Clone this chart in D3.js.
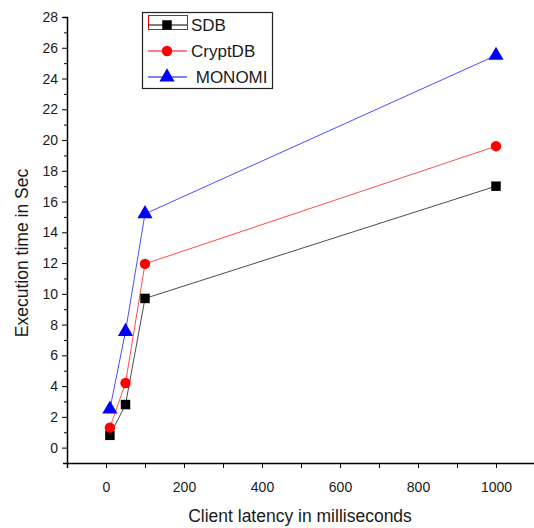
<!DOCTYPE html>
<html>
<head>
<meta charset="utf-8">
<script src="https://cdn.jsdelivr.net/npm/d3@7"></script>
<style>
  body { margin: 0; background: #fff; }
  text { font-family: "Liberation Sans", Arial, sans-serif; fill: #1a1a1a; }
</style>
</head>
<body>
<div id="main"></div>
<script>
const latency = [10, 50, 100, 1000];
const sdb = [0.8, 2.8, 9.7, 17.0];
const cryptdb = [1.3, 4.2, 11.95, 19.6];
const monomi = [2.5, 7.55, 15.2, 25.5];
const seriesNames = ["SDB", "CryptDB", " MONOMI"];
const seriesColors = ["#000000", "#ff0000", "#0000ff"];
const seriesSymbols = [d3.symbolSquare, d3.symbolCircle, d3.symbolTriangle];
const xTickLabels = [0, 200, 400, 600, 800, 1000];
const yTickLabels = d3.range(0, 29, 2);

const ctx = { w: 534, h: 528 };

function createViz() {
    let svg = d3.select("#main").append("svg")
        .attr("width", ctx.w)
        .attr("height", ctx.h);

    let xScale = d3.scaleLinear().domain([-100, 1100]).range([67, 535]);
    let yScale = d3.scaleLinear().domain([-1, 28]).range([463, 17]);

    // x axis, minor ticks every 100
    let xAxis = d3.axisBottom(xScale)
        .tickValues(d3.range(-100, 1101, 100))
        .tickSize(5)
        .tickFormat((d) => (xTickLabels.includes(d) ? d : ""));
    let xg = svg.append("g")
        .attr("transform", "translate(0," + yScale(-1) + ")")
        .call(xAxis);
    xg.select(".domain").attr("stroke-width", 1.5);
    xg.selectAll("text").attr("font-size", 14).attr("dy", "1.5em");

    // y axis, minor ticks every 1
    let yAxis = d3.axisLeft(yScale)
        .tickValues(d3.range(-1, 29, 1))
        .tickSize(4)
        .tickFormat((d) => (yTickLabels.includes(d) ? d : ""));
    let yg = svg.append("g")
        .attr("transform", "translate(" + xScale(-100) + ",0)")
        .call(yAxis);
    yg.select(".domain").attr("stroke-width", 1.5);
    yg.selectAll(".tick line").attr("x2", (d) => (d % 2 === 0 ? -5 : -3));
    yg.selectAll("text").attr("font-size", 14).attr("x", -9);

    // axis titles
    svg.append("text")
        .attr("x", 300)
        .attr("y", 522)
        .attr("text-anchor", "middle")
        .attr("font-size", 17.5)
        .text("Client latency in milliseconds");
    svg.append("text")
        .attr("transform", "translate(28,253) rotate(-90)")
        .attr("text-anchor", "middle")
        .attr("font-size", 17.5)
        .text("Execution time in Sec");

    let allSeries = [sdb, cryptdb, monomi];
    let line = d3.line()
        .x((d, i) => xScale(latency[i]))
        .y((d) => yScale(d));

    allSeries.forEach((vals, s) => {
        svg.append("path")
            .datum(vals)
            .attr("d", line)
            .attr("fill", "none")
            .attr("stroke", seriesColors[s])
            .attr("stroke-opacity", 0.7)
            .attr("stroke-width", 1);
    });
    let symSizes = [90, 85, 100];
    allSeries.forEach((vals, s) => {
        svg.selectAll(".pt" + s)
            .data(vals)
            .enter()
            .append("path")
                .attr("transform", (d, i) => "translate(" + xScale(latency[i]) + "," + yScale(d) + ")")
                .attr("d", d3.symbol().type(seriesSymbols[s]).size(symSizes[s]))
                .attr("fill", seriesColors[s]);
    });

    // legend
    let legend = svg.append("g").attr("id", "legend");
    legend.append("rect")
        .attr("x", 142.5).attr("y", 12.5)
        .attr("width", 130).attr("height", 76)
        .attr("fill", "none").attr("stroke", "#222").attr("stroke-width", 1.2);
    legend.append("rect")
        .attr("x", 148.5).attr("y", 15.5)
        .attr("width", 39).attr("height", 14)
        .attr("fill", "none").attr("stroke", "#ff0000").attr("stroke-width", 1);
    seriesNames.forEach((name, s) => {
        let cy = 25 + s * 26;
        legend.append("line")
            .attr("x1", 148).attr("x2", 187)
            .attr("y1", cy).attr("y2", cy)
            .attr("stroke", seriesColors[s]).attr("stroke-width", 1);
        legend.append("path")
            .attr("transform", "translate(167," + cy + ")")
            .attr("d", d3.symbol().type(seriesSymbols[s]).size(symSizes[s]))
            .attr("fill", seriesColors[s]);
        legend.append("text")
            .attr("x", 191)
            .attr("y", cy + 6)
            .attr("font-size", 17)
            .style("white-space", "pre")
            .text(name);
    });
}

createViz();
</script>
</body>
</html>
